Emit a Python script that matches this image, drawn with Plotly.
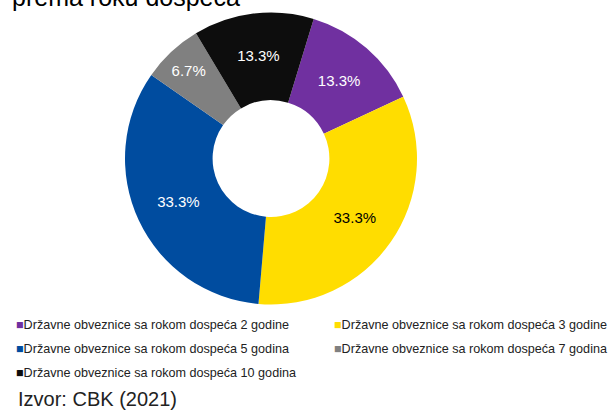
import plotly.graph_objects as go

labels = [
    "Državne obveznice sa rokom dospeća 2 godine",
    "Državne obveznice sa rokom dospeća 3 godine",
    "Državne obveznice sa rokom dospeća 5 godina",
    "Državne obveznice sa rokom dospeća 7 godina",
    "Državne obveznice sa rokom dospeća 10 godina",
]
shares = [13.3, 33.3, 33.3, 6.7, 13.3]
colors = ["#7030A0", "#FFDD00", "#004C9F", "#808080", "#0D0D0D"]
text_colors = ["white", "black", "white", "white", "white"]
title_text = "prema roku dospeća"
source_text = "Izvor: CBK (2021)"

W, H = 608, 410
FONT = "Liberation Sans, Arial, sans-serif"

cx, cy, r = 271, 158.5, 146
fig = go.Figure(go.Pie(
    labels=labels,
    values=shares,
    sort=False,
    direction="clockwise",
    rotation=17,
    hole=0.4,
    marker=dict(colors=colors, line=dict(width=0)),
    texttemplate="%{value:.1f}%",
    textposition="inside",
    insidetextorientation="horizontal",
    textfont=dict(family=FONT, size=15, color=text_colors),
    showlegend=False,
    hoverinfo="label+percent",
    domain=dict(x=[(cx - r) / W, (cx + r) / W], y=[(H - cy - r) / H, (H - cy + r) / H]),
))

annotations = [
    dict(text=title_text, x=10 / W, y=1 + 3 / H, xref="paper", yref="paper",
         xanchor="left", yanchor="middle", showarrow=False,
         font=dict(family=FONT, size=25, color="black")),
    dict(text=source_text, x=16 / W, y=1 - 399 / H, xref="paper", yref="paper",
         xanchor="left", yanchor="middle", showarrow=False,
         font=dict(family=FONT, size=20, color="#222222")),
]
col_x = [14, 332]
row_y = [325, 349, 373]
for i, (lab, col) in enumerate(zip(labels, colors)):
    xpx = col_x[i % 2]
    ypx = row_y[i // 2]
    annotations.append(dict(
        text=f'<span style="color:{col}">■</span>{lab}',
        x=xpx / W, y=1 - ypx / H, xref="paper", yref="paper",
        xanchor="left", yanchor="middle", showarrow=False,
        font=dict(family=FONT, size=12.6, color="#222222"),
    ))

fig.update_layout(
    width=W, height=H,
    margin=dict(l=0, r=0, t=0, b=0),
    paper_bgcolor="white", plot_bgcolor="white",
    annotations=annotations,
)
fig.write_html("out.html", config={"displayModeBar": False},
               post_script="document.body.style.margin='0';")
